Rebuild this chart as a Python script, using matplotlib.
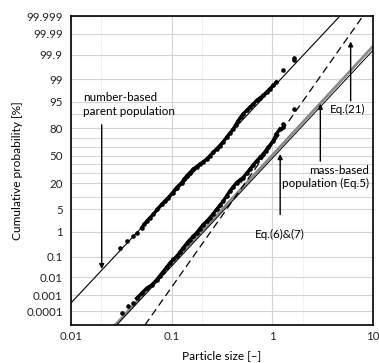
from statistics import NormalDist
import numpy as np
import matplotlib
matplotlib.use("Agg")
import matplotlib.pyplot as plt

plt.rcParams['font.family'] = ['Lato', 'DejaVu Sans']

# number-based parent population (particle size, cumulative %)
num_size = [0.0307, 0.0357, 0.0410, 0.0449,
            0.0504, 0.0535, 0.0565, 0.061, 0.0657, 0.072, 0.0796, 0.086, 0.0925,
            0.102, 0.112, 0.126, 0.133, 0.141, 0.152, 0.164, 0.177, 0.191, 0.207,
            0.223, 0.240, 0.259, 0.280, 0.302, 0.326, 0.352, 0.380, 0.409, 0.433,
            0.459, 0.485, 0.514, 0.556, 0.600, 0.648, 0.699, 0.755, 0.813, 0.878,
            0.947, 1.02, 1.10,
            1.28, 1.64, 1.64]
num_pct = [0.236, 0.466, 0.68, 0.91,
           1.36, 1.8, 2.24, 2.9, 3.6, 5.0, 6.8, 8.3, 9.9,
           12.8, 16.4, 20.5, 23.5, 26.7, 30.2, 33.9, 36.8, 39.7, 42.8,
           45.7, 49.8, 53.9, 58.0, 61.9, 66.5, 71.2, 75.5, 79.2, 82.6,
           85.8, 88.0, 89.9, 91.6, 93.1, 94.3, 95.4, 96.1, 96.7, 97.4,
           97.96, 98.4, 98.78,
           99.55, 99.82, 99.86]

# mass-based population (particle size, cumulative %)
mass_size = [0.0318, 0.0371, 0.0410,
             0.0449, 0.0504, 0.0565, 0.0633, 0.0710, 0.0765, 0.0826, 0.089,
             0.0962, 0.104, 0.112, 0.121, 0.130, 0.141, 0.152, 0.164, 0.177,
             0.191, 0.206, 0.222, 0.240, 0.259, 0.280, 0.302, 0.325, 0.351,
             0.379, 0.409, 0.442, 0.477, 0.514, 0.556, 0.600, 0.648, 0.699,
             0.754, 0.813, 0.86, 0.911, 1.02, 1.10, 1.19,
             1.28, 1.28, 1.64]
mass_pct = [0.00007, 0.00022, 0.00031,
            0.00064, 0.0013, 0.0025, 0.0038, 0.0072, 0.012, 0.0196, 0.032,
            0.051, 0.075, 0.102, 0.16, 0.236, 0.36, 0.51, 0.68, 0.91,
            1.28, 1.75, 2.2, 2.86, 3.8, 4.99, 6.4, 8.2, 10.8,
            13.9, 17.0, 20.5, 22.8, 25.1, 29.5, 33.9, 38.8, 43.6,
            47.7, 51.8, 56.0, 59.9, 67.6, 74.6, 79.2,
            81.2, 83.4, 92.4]

# model lines, end points (size, %)
p_bottom = 1.11e-5
p_top = 99.999
num_line_size = [0.01, 4.69]
num_line_pct = [0.00033, p_top]
mass_line_size = [0.0275, 10]
mass_line_pct = [p_bottom, 99.958]
eq67_line_size = [0.0285, 10]
eq67_line_pct = [p_bottom, 99.935]
eq21_line_size = [0.0543, 7.94]
eq21_line_pct = [p_bottom, p_top]

ytick_vals = [0.0001, 0.001, 0.01, 0.1, 1, 5, 20, 50, 80, 95, 99, 99.9, 99.99, 99.999]
ytick_labels = ['0.0001', '0.001', '0.01', '0.1', '1', '5', '20', '50', '80', '95',
                '99', '99.9', '99.99', '99.999']
ygrid_minor = [10, 30, 40, 60, 70, 90]
xtick_vals = [0.01, 0.1, 1, 10]
xtick_labels = ['0.01', '0.1', '1', '10']

nd = NormalDist()
_ppf = np.vectorize(nd.inv_cdf, otypes=[float])
_cdf = np.vectorize(nd.cdf, otypes=[float])


def fwd(p):
    p = np.clip(np.asarray(p, dtype=float) / 100.0, 1e-15, 1 - 1e-15)
    return _ppf(p)


def inv(z):
    return _cdf(np.asarray(z, dtype=float)) * 100.0


fig = plt.figure(figsize=(3.79, 3.63), dpi=100)
ax = fig.add_axes([0.1873, 0.1047, 0.7968, 0.851])
ax.set_xscale('log')
ax.set_yscale('function', functions=(fwd, inv))
ax.set_xlim(0.01, 10)
ax.set_ylim(p_bottom, p_top)

ax.set_yticks(ytick_vals)
ax.set_yticklabels(ytick_labels)
ax.set_yticks(ygrid_minor, minor=True)
ax.set_xticks(xtick_vals)
ax.set_xticklabels(xtick_labels)
ax.set_xticks([0.02, 0.2, 2], minor=True)
ax.xaxis.set_minor_formatter(matplotlib.ticker.NullFormatter())
ax.yaxis.set_minor_formatter(matplotlib.ticker.NullFormatter())
ax.tick_params(which='both', length=0, labelsize=8.3, colors='#222222')
ax.tick_params(axis='y', pad=6)
ax.tick_params(axis='x', pad=4)
ax.grid(which='major', color='#d4d4d4', lw=0.8)
ax.grid(which='minor', axis='y', color='#d4d4d4', lw=0.8)
ax.grid(which='minor', axis='x', color='#efefef', lw=0.6)
ax.set_axisbelow(True)
for sp in ax.spines.values():
    sp.set_linewidth(1.2)

# model lines
ax.plot(num_line_size, num_line_pct, color='k', lw=0.8)
ax.plot(mass_line_size, mass_line_pct, color='#8a8a8a', lw=2.0)
ax.plot(eq67_line_size, eq67_line_pct, color='k', lw=0.7)
ax.plot(eq21_line_size, eq21_line_pct, color='k', lw=0.9, ls=(0, (6, 3.5)))

# data
ax.plot(num_size[4:-3], num_pct[4:-3], color='k', lw=2.4)
ax.plot(num_size, num_pct, 'o', color='k', ms=2.3)
ax.plot(mass_size[3:-3], mass_pct[3:-3], color='k', lw=2.4)
ax.plot(mass_size, mass_pct, 'o', color='k', ms=2.3)

arrow = dict(arrowstyle='-|>', color='k', lw=1.0, mutation_scale=7,
             shrinkA=0, shrinkB=0)
fs = 8.4
ax.annotate('', xy=(0.0202, 0.026), xytext=(0.0202, 82.6), arrowprops=arrow)
ax.text(0.0131, 94.1, 'number-based\nparent population', fontsize=fs,
        ha='left', va='center', linespacing=1.3)

ax.annotate('', xy=(6.0, 99.976), xytext=(6.0, 95.3), arrowprops=arrow)
ax.text(5.64, 91.9, 'Eq.(21)', fontsize=fs, ha='center', va='center')

ax.annotate('', xy=(3.0, 94.35), xytext=(3.0, 43.3), arrowprops=arrow)
ax.text(9.2, 25.7, 'mass-based\npopulation (Eq.5)', fontsize=fs, ha='right',
        va='center', multialignment='right', linespacing=1.3)

ax.annotate('', xy=(1.197, 51.8), xytext=(1.197, 3.59), arrowprops=arrow)
ax.text(1.197, 0.787, 'Eq.(6)&(7)', fontsize=fs, ha='center', va='center')

ax.set_xlabel('Particle size [–]', fontsize=8.6)
ax.set_ylabel('Cumulative probability [%]', fontsize=8.6)
ax.xaxis.set_label_coords(0.5, -0.082)
ax.yaxis.set_label_coords(-0.16, 0.5)

fig.savefig('out.png', dpi=100)
